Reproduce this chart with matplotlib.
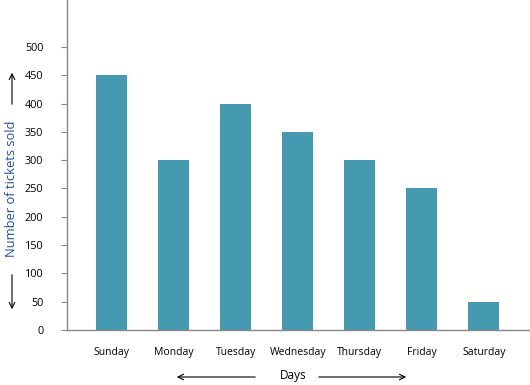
import matplotlib
matplotlib.use("Agg")
import matplotlib.pyplot as plt

days = ["Sunday", "Monday", "Tuesday", "Wednesday", "Thursday", "Friday", "Saturday"]
tickets = [450, 300, 400, 350, 300, 250, 50]
yticks = [0, 50, 100, 150, 200, 250, 300, 350, 400, 450, 500]

plt.rcParams['font.family'] = ['Open Sans', 'DejaVu Sans']
fig = plt.figure(figsize=(5.3, 3.85), dpi=100)
ax = fig.add_axes([67/530, (385-330)/385, (529-67)/530, 330/385])
x = list(range(len(days)))
ax.bar(x, tickets, width=0.5, color='#4599B0')
ax.set_xlim(-0.72, 6.73)
ax.set_ylim(0, 583)
ax.set_yticks(yticks)
ax.set_xticks(x)
ax.set_xticklabels(days, fontsize=7.5)
ax.tick_params(axis='x', length=0, pad=12)
ax.tick_params(axis='y', length=4, width=0.8, color='#888888', labelsize=7.8, pad=13)
for s in ['top', 'right']:
    ax.spines[s].set_visible(False)
for s in ['left', 'bottom']:
    ax.spines[s].set_color('#888888')
    ax.spines[s].set_linewidth(1.0)

fig.text(12/530, 1-189/385, 'Number of tickets sold', rotation=90, ha='center', va='center',
         fontsize=9.3, color='#1F4E9A')
fig.text(293/530, 1-376/385, 'Days', ha='center', va='center', fontsize=8.5, color='black')
def arrow(p0, p1):
    fig.add_artist(matplotlib.patches.FancyArrowPatch((p0[0]/530, 1-p0[1]/385), (p1[0]/530, 1-p1[1]/385),
                   transform=fig.transFigure, arrowstyle='->', mutation_scale=10, color='black', lw=0.8))
arrow((258, 377), (174, 377))
arrow((316, 377), (409, 377))
arrow((12, 107), (12, 70))
arrow((12, 272), (12, 312))
fig.savefig('out.png', dpi=100)
